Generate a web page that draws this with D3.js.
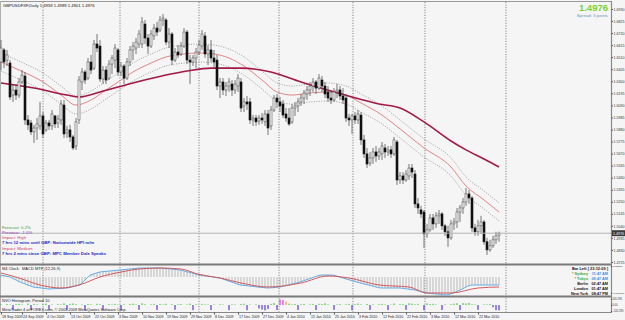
<!DOCTYPE html>
<html><head><meta charset="utf-8">
<script src="https://cdn.jsdelivr.net/npm/d3@7"></script>
<style>
body{margin:0;background:#f5f5f5;}
svg{display:block;font-family:"Liberation Sans",Arial,sans-serif;}
</style>
</head><body>
<svg id="c" width="625" height="320"></svg>
<script>
// ---------- DATA ----------
const symbolTitle = "GBPUSDFXF,Daily  1.4959 1.4989 1.4901 1.4976";
const lastPrice = 1.4976;
const open = [
1.6468,1.6573,1.6485,1.6459,1.6180,1.6224,1.6180,1.6294,1.6346,1.5963,
1.5937,1.5859,1.5893,1.5911,1.5998,1.5876,1.5937,1.5911,1.5998,1.5937,
1.5963,1.6093,1.5850,1.5876,1.5815,1.5736,1.5963,1.6294,1.6381,1.6328,
1.6468,1.6415,1.6625,1.6607,1.6320,1.6398,1.6328,1.6450,1.6485,1.6573,
1.6381,1.6433,1.6328,1.6468,1.6573,1.6590,1.6625,1.6625,1.6799,1.6677,
1.6607,1.6695,1.6764,1.6747,1.6834,1.6834,1.6642,1.6712,1.6485,1.6555,
1.6538,1.6607,1.6729,1.6485,1.6468,1.6503,1.6555,1.6607,1.6695,1.6538,
1.6573,1.6503,1.6485,1.6259,1.6294,1.6224,1.6259,1.6276,1.6224,1.6259,
1.6294,1.6085,1.6120,1.6120,1.5963,1.5980,1.5954,1.5980,1.5946,1.6015,
1.5911,1.6050,1.6154,1.6120,1.6102,1.6015,1.5980,1.5946,1.6067,1.6085,
1.6120,1.6154,1.6189,1.6224,1.6259,1.6294,1.6241,1.6311,1.6259,1.6207,
1.6154,1.6137,1.6207,1.6224,1.6172,1.6154,1.5980,1.5963,1.5998,1.5963,
1.6006,1.5789,1.5667,1.5588,1.5632,1.5684,1.5649,1.5667,1.5719,1.5684,
1.5702,1.5667,1.5771,1.5440,1.5475,1.5440,1.5475,1.5544,1.5492,1.5231,
1.5179,1.5161,1.4970,1.5005,1.5109,1.5057,1.5127,1.5144,1.5040,1.4988,
1.4935,1.5057,1.5074,1.5161,1.5196,1.5248,1.5318,1.5283,1.5022,1.4988,
1.5040,1.5074,1.4901,1.4831,1.4866,1.4918,1.4959];
const high = [
1.6660,1.6590,1.6573,1.6485,1.6267,1.6276,1.6328,1.6398,1.6381,1.6006,
1.5963,1.5920,1.5980,1.6120,1.6032,1.5963,1.5963,1.6050,1.6006,1.6006,
1.6137,1.6137,1.5911,1.5920,1.5832,1.5980,1.6346,1.6415,1.6398,1.6503,
1.6529,1.6660,1.6712,1.6660,1.6433,1.6433,1.6485,1.6529,1.6625,1.6590,
1.6468,1.6450,1.6503,1.6607,1.6642,1.6677,1.6747,1.6860,1.6834,1.6712,
1.6747,1.6799,1.6817,1.6869,1.6886,1.6851,1.6764,1.6729,1.6590,1.6616,
1.6642,1.6764,1.6747,1.6529,1.6529,1.6590,1.6660,1.6747,1.6729,1.6616,
1.6660,1.6573,1.6529,1.6328,1.6328,1.6294,1.6328,1.6311,1.6311,1.6363,
1.6328,1.6154,1.6172,1.6154,1.6006,1.6006,1.6006,1.6024,1.6050,1.6050,
1.6085,1.6180,1.6189,1.6163,1.6137,1.6067,1.6067,1.6102,1.6120,1.6154,
1.6189,1.6224,1.6259,1.6294,1.6328,1.6311,1.6363,1.6346,1.6294,1.6259,
1.6224,1.6241,1.6276,1.6259,1.6241,1.6189,1.6015,1.6015,1.6032,1.6050,
1.6032,1.5832,1.5719,1.5684,1.5719,1.5736,1.5719,1.5771,1.5754,1.5736,
1.5736,1.5815,1.5789,1.5509,1.5509,1.5527,1.5579,1.5579,1.5527,1.5283,
1.5214,1.5179,1.5057,1.5144,1.5144,1.5161,1.5179,1.5161,1.5057,1.5040,
1.5092,1.5109,1.5196,1.5222,1.5283,1.5370,1.5353,1.5300,1.5057,1.5092,
1.5127,1.5092,1.4935,1.4918,1.4953,1.4988,1.4989];
const low = [
1.6398,1.6415,1.6433,1.6137,1.6120,1.6137,1.6154,1.6276,1.5920,1.5876,
1.5832,1.5763,1.5789,1.5876,1.5806,1.5859,1.5876,1.5876,1.5893,1.5893,
1.5920,1.5806,1.5806,1.5772,1.5702,1.5702,1.5928,1.6224,1.6276,1.6311,
1.6363,1.6398,1.6555,1.6294,1.6276,1.6276,1.6311,1.6363,1.6415,1.6346,
1.6346,1.6276,1.6311,1.6433,1.6485,1.6538,1.6590,1.6590,1.6625,1.6538,
1.6590,1.6660,1.6695,1.6729,1.6782,1.6616,1.6590,1.6441,1.6468,1.6503,
1.6520,1.6590,1.6450,1.6276,1.6433,1.6415,1.6529,1.6573,1.6503,1.6441,
1.6468,1.6415,1.6224,1.6154,1.6180,1.6172,1.6207,1.6172,1.6189,1.6207,
1.6032,1.6032,1.6050,1.5928,1.5911,1.5911,1.5920,1.5928,1.5911,1.5832,
1.5876,1.6032,1.6067,1.6032,1.5980,1.5946,1.5911,1.5928,1.5998,1.6032,
1.6085,1.6102,1.6137,1.6172,1.6207,1.6189,1.6224,1.6207,1.6154,1.6120,
1.6102,1.6120,1.6154,1.6137,1.6102,1.5946,1.5911,1.5841,1.5928,1.5928,
1.5745,1.5632,1.5544,1.5562,1.5579,1.5597,1.5614,1.5614,1.5632,1.5649,
1.5632,1.5649,1.5396,1.5405,1.5405,1.5423,1.5440,1.5457,1.5196,1.5144,
1.5109,1.4848,1.4935,1.4988,1.5005,1.5022,1.5057,1.5005,1.4953,1.4857,
1.4918,1.5005,1.5022,1.5074,1.5144,1.5214,1.5231,1.4988,1.4953,1.4953,
1.4970,1.4875,1.4787,1.4814,1.4848,1.4883,1.4901];
const close = [
1.6590,1.6468,1.6529,1.6163,1.6224,1.6180,1.6294,1.6354,1.5963,1.5920,
1.5859,1.5893,1.5928,1.5998,1.5841,1.5937,1.5911,1.6015,1.5928,1.5972,
1.6102,1.5841,1.5876,1.5815,1.5719,1.5946,1.6311,1.6381,1.6311,1.6468,
1.6398,1.6625,1.6590,1.6320,1.6398,1.6311,1.6450,1.6503,1.6590,1.6381,
1.6433,1.6328,1.6468,1.6573,1.6607,1.6642,1.6712,1.6817,1.6677,1.6607,
1.6712,1.6764,1.6729,1.6834,1.6851,1.6642,1.6712,1.6485,1.6555,1.6529,
1.6607,1.6729,1.6485,1.6468,1.6503,1.6555,1.6616,1.6712,1.6538,1.6573,
1.6503,1.6468,1.6259,1.6294,1.6224,1.6259,1.6294,1.6224,1.6276,1.6328,
1.6067,1.6120,1.6102,1.5963,1.5980,1.5946,1.5980,1.5963,1.6015,1.5893,
1.6050,1.6154,1.6120,1.6085,1.6006,1.5980,1.5928,1.6067,1.6085,1.6120,
1.6154,1.6198,1.6224,1.6259,1.6294,1.6241,1.6328,1.6259,1.6189,1.6154,
1.6137,1.6207,1.6224,1.6172,1.6137,1.5980,1.5963,1.5998,1.5963,1.6015,
1.5789,1.5667,1.5579,1.5632,1.5684,1.5649,1.5684,1.5736,1.5684,1.5702,
1.5667,1.5789,1.5440,1.5475,1.5440,1.5492,1.5544,1.5509,1.5231,1.5196,
1.5144,1.4970,1.5005,1.5109,1.5057,1.5127,1.5144,1.5040,1.4988,1.4935,
1.5057,1.5074,1.5161,1.5196,1.5248,1.5318,1.5283,1.5022,1.4988,1.5040,
1.5074,1.4901,1.4831,1.4866,1.4918,1.4953,1.4976];

// moving averages read at sample bars
const slowMaIdx = [0,11,22,26,33,44,55,62,70,80,90,100,110,117,126,133,141,150,155,161,166];
const slowMa = [1.6285,1.6241,1.6180,1.6163,1.6207,1.6285,1.6354,1.6389,1.6415,1.6415,1.6381,1.6294,1.6215,1.6163,1.6102,1.6067,1.5946,1.5780,1.5702,1.5623,1.5553];
const fastMaIdx = [0,6,14,20,25,30,35,40,44,50,55,61,66,71,76,81,87,92,97,103,109,115,120,127,133,141,150,155,161,166];
const fastMa = [1.6468,1.6398,1.6294,1.6180,1.6093,1.6137,1.6224,1.6311,1.6381,1.6459,1.6512,1.6538,1.6547,1.6538,1.6503,1.6433,1.6311,1.6207,1.6180,1.6198,1.6207,1.6180,1.6111,1.6006,1.5885,1.5719,1.5553,1.5388,1.5266,1.5161];
const bandUpper = [1.6547,1.6476,1.6372,1.6259,1.6172,1.6215,1.6302,1.6389,1.6459,1.6538,1.6590,1.6616,1.6625,1.6616,1.6581,1.6512,1.6389,1.6285,1.6259,1.6276,1.6285,1.6259,1.6189,1.6085,1.5963,1.5798,1.5632,1.5466,1.5344,1.5240];
const bandLower = [1.6389,1.6320,1.6215,1.6102,1.6015,1.6058,1.6146,1.6233,1.6302,1.6381,1.6433,1.6459,1.6468,1.6459,1.6424,1.6354,1.6233,1.6128,1.6102,1.6120,1.6128,1.6102,1.6032,1.5928,1.5806,1.5640,1.5475,1.5309,1.5187,1.5083];

// MACD MTF (12,26,9): main per bar, signal at sample bars
const macdMain = [
0.0009,0.0006,0.0003,0.0000,-0.0008,-0.0015,-0.0023,-0.0029,-0.0035,-0.0041,
-0.0046,-0.0051,-0.0053,-0.0054,-0.0056,-0.0058,-0.0060,-0.0059,-0.0058,-0.0058,
-0.0057,-0.0056,-0.0055,-0.0052,-0.0048,-0.0044,-0.0041,-0.0030,-0.0015,0.0000,
0.0012,0.0016,0.0021,0.0025,0.0027,0.0028,0.0030,0.0031,0.0033,0.0034,
0.0036,0.0037,0.0039,0.0040,0.0042,0.0043,0.0045,0.0045,0.0045,0.0045,
0.0045,0.0045,0.0045,0.0045,0.0044,0.0042,0.0041,0.0039,0.0038,0.0036,
0.0034,0.0030,0.0026,0.0023,0.0019,0.0015,0.0011,0.0009,0.0006,0.0004,
0.0002,-0.0001,-0.0003,-0.0005,-0.0010,-0.0016,-0.0021,-0.0026,-0.0031,-0.0037,
-0.0041,-0.0042,-0.0044,-0.0046,-0.0047,-0.0049,-0.0051,-0.0052,-0.0054,-0.0055,
-0.0054,-0.0053,-0.0051,-0.0050,-0.0046,-0.0043,-0.0039,-0.0035,-0.0031,-0.0028,
-0.0023,-0.0018,-0.0013,-0.0008,-0.0002,0.0003,0.0008,0.0010,0.0010,0.0010,
0.0010,0.0009,0.0004,-0.0001,-0.0005,-0.0010,-0.0014,-0.0019,-0.0023,-0.0027,
-0.0031,-0.0035,-0.0038,-0.0042,-0.0046,-0.0050,-0.0054,-0.0055,-0.0055,-0.0055,
-0.0055,-0.0055,-0.0055,-0.0055,-0.0057,-0.0059,-0.0061,-0.0063,-0.0065,-0.0069,
-0.0073,-0.0076,-0.0080,-0.0082,-0.0083,-0.0085,-0.0086,-0.0088,-0.0090,-0.0089,
-0.0084,-0.0078,-0.0073,-0.0065,-0.0058,-0.0050,-0.0043,-0.0040,-0.0040,-0.0040,
-0.0040,-0.0040,-0.0040,-0.0040,-0.0040,-0.0040,-0.0040];
const signalIdx = [0,6,13,20,26,33,40,46,53,60,66,73,80,89,100,109,116,126,136,142,150,159,166];
const signalVals = [0.0020,-0.0005,-0.0040,-0.0055,-0.0040,0.0000,0.0025,0.0040,0.0045,0.0040,0.0013,-0.0005,-0.0030,-0.0050,-0.0030,0.0005,-0.0005,-0.0040,-0.0050,-0.0080,-0.0080,-0.0055,-0.0050];
const macdAxisVals = [0.0055,-0.0080];

// NVO Histogram, Period 10 (per bar)
const nvo = [
12,0,18,8,-85,15,22,10,0,26,
-90,20,14,0,18,25,-80,10,0,16,
12,30,-88,20,28,15,0,10,-92,18,
12,0,22,14,-85,0,16,10,20,8,
-90,12,0,18,24,10,-86,30,14,0,
12,20,-90,16,10,22,0,14,-84,12,
18,0,10,24,-90,14,0,20,12,8,
-88,10,0,14,8,0,-90,12,10,0,
18,22,-92,10,0,12,-60,-80,-95,-70,
20,34,-90,98,90,60,24,12,18,-88,
14,20,0,10,16,-90,22,18,30,12,
0,-86,10,16,0,12,20,-92,14,26,
10,0,18,-88,12,0,16,20,10,-90,
8,26,0,14,18,-85,30,24,12,20,
0,-92,28,18,22,10,0,-88,12,0,
16,24,30,-90,34,28,36,14,10,-86,
0,12,10,16,-40,-92,-95];
const nvoAxisVals = [105.29, 0, -105.29];

// axes
const priceTicks = [1.6930,1.6825,1.6720,1.6615,1.6510,1.6405,1.6300,1.6195,1.6090,1.5985,1.5880,
  1.5775,1.5670,1.5565,1.5460,1.5355,1.5250,1.5145,1.5040,1.4935,1.4830,1.4725];
const dateIdx = [0,7,15,23,31,39,47,55,63,71,79,87,95,103,111,119,127,135,143,151,159];
const dateText = ["18 Sep 2009","24 Sep 2009","4 Oct 2009","13 Oct 2009","22 Oct 2009","3 Nov 2009",
  "10 Nov 2009","19 Nov 2009","29 Nov 2009","8 Dec 2009","17 Dec 2009","27 Dec 2009","4 Jan 2010",
  "15 Jan 2010","25 Jan 2010","3 Feb 2010","12 Feb 2010","22 Feb 2010","3 Mar 2010","12 Mar 2010","22 Mar 2010"];
const monthStartIdx = [14, 39.67, 66, 92.67, 117.33, 141.33, 168.33];

// news / clock texts
const newsLines = [
  {t:"Forecast: 0.2%", c:"#3a9a3a", b:false},
  {t:"Previous: -1.0%", c:"#8a3cb0", b:false},
  {t:"Impact: High", c:"#d0406a", b:false},
  {t:"7 hrs 12 mins until GBP: Nationwide HPI m/m", c:"#1c2cc8", b:true},
  {t:"Impact: Medium", c:"#d0406a", b:false},
  {t:"7 hrs 2 mins since GBP: MPC Member Dale Speaks", c:"#1c2cc8", b:true}
];
const clockCities = ["* Sydney","* Tokyo","Berlin","London","New York"];
const clockTimes = ["11:47 AM","09:47 AM","02:47 AM","01:47 AM","08:47 PM"];

// ---------- DRAW ----------
const svg = d3.select("#c");
const W = 625, H = 320, axisX = 611;
svg.append("rect").attr("width",W).attr("height",H).attr("fill","#f5f5f5");

const x = d3.scaleLinear().domain([0,166]).range([1,499]);
const y = d3.scaleLinear().domain([1.4725,1.6930]).range([262,9]);
const yM = d3.scaleLinear().domain([-0.0090,0.0050]).range([295,267]);
const yN = d3.scaleLinear().domain([-105.29,105.29]).range([311,299]);

// frames
svg.append("line").attr("x1",0).attr("x2",axisX).attr("y1",1.5).attr("y2",1.5).attr("stroke","#9a9a9a");
svg.append("line").attr("x1",0.5).attr("x2",0.5).attr("y1",1).attr("y2",312).attr("stroke","#b0b0b0");

// month separators
svg.append("g").selectAll("line").data(monthStartIdx).join("line")
  .attr("x1",d=>x(d)).attr("x2",d=>x(d)).attr("y1",2).attr("y2",312)
  .attr("stroke","#555").attr("stroke-width",0.8).attr("stroke-dasharray","1,1.6");

// bands and MAs
const lineIdx = (idx) => d3.line().x((d,i)=>x(idx[i])).y(d=>y(d)).curve(d3.curveMonotoneX);
svg.append("path").attr("d",lineIdx(fastMaIdx)(bandUpper)).attr("fill","none")
  .attr("stroke","#777").attr("stroke-width",0.7).attr("stroke-dasharray","1,1.5");
svg.append("path").attr("d",lineIdx(fastMaIdx)(bandLower)).attr("fill","none")
  .attr("stroke","#777").attr("stroke-width",0.7).attr("stroke-dasharray","1,1.5");
svg.append("path").attr("d",lineIdx(fastMaIdx)(fastMa)).attr("fill","none")
  .attr("stroke","#e07878").attr("stroke-width",0.9);
svg.append("path").attr("d",lineIdx(slowMaIdx)(slowMa)).attr("fill","none")
  .attr("stroke","#a3174a").attr("stroke-width",1.6);

// candles
const idx = d3.range(close.length);
const cg = svg.append("g");
cg.selectAll("line").data(idx).join("line")
  .attr("x1",i=>x(i)).attr("x2",i=>x(i))
  .attr("y1",i=>y(high[i])).attr("y2",i=>y(low[i]))
  .attr("stroke","#555").attr("stroke-width",0.8);
cg.selectAll("rect").data(idx).join("rect")
  .attr("x",i=>x(i)-1).attr("width",2)
  .attr("y",i=>y(Math.max(open[i],close[i])))
  .attr("height",i=>Math.max(0.8,Math.abs(y(open[i])-y(close[i]))))
  .attr("fill",i=>close[i]>=open[i]?"#ffffff":"#111")
  .attr("stroke",i=>close[i]>=open[i]?"#555":"#111").attr("stroke-width",0.6);

// bid line
svg.append("line").attr("x1",0).attr("x2",axisX).attr("y1",y(lastPrice)).attr("y2",y(lastPrice))
  .attr("stroke","#b4b4b4").attr("stroke-width",1);

// title
svg.append("text").attr("x",3).attr("y",7).attr("font-size",4.2).attr("fill","#111").text(symbolTitle);
// big price
svg.append("text").attr("x",608).attr("y",11).attr("text-anchor","end").attr("font-size",9.5)
  .attr("font-weight","bold").attr("fill","#7ed321").text(d3.format(".4f")(lastPrice));
svg.append("text").attr("x",608).attr("y",16.5).attr("text-anchor","end").attr("font-size",4.3)
  .attr("fill","#6f93b8").text("Spread: 3 points");

// news texts
const newsY = [229, 233.6, 238.6, 243.6, 250.3, 255.3];
svg.append("g").selectAll("text").data(newsLines).join("text")
  .attr("x",2).attr("y",(d,i)=>newsY[i]).attr("font-size",4.3)
  .attr("font-weight",d=>d.b?"bold":"normal").attr("fill",d=>d.c).text(d=>d.t);

// window separators
[264.5, 296.5].forEach(v=>svg.append("line").attr("x1",0).attr("x2",axisX).attr("y1",v).attr("y2",v)
  .attr("stroke","#7a7a7a").attr("stroke-width",1.8));
svg.append("line").attr("x1",0).attr("x2",axisX).attr("y1",312.5).attr("y2",312.5).attr("stroke","#888").attr("stroke-width",1);

// MACD window
svg.append("text").attr("x",2).attr("y",269.8).attr("font-size",4.0).attr("fill","#222").text("M4 Clock");
svg.append("text").attr("x",22).attr("y",269.8).attr("font-size",4.0).attr("fill","#222").text("MACD MTF (12,26,9)");
svg.append("g").selectAll("line").data(idx).join("line")
  .attr("x1",i=>x(i)).attr("x2",i=>x(i)).attr("y1",yM(0)).attr("y2",i=>yM(macdMain[i]))
  .attr("stroke","#a8a8a8").attr("stroke-width",0.8);
svg.append("path").attr("d",d3.line().x((d,i)=>x(i)).y(d=>yM(d))(macdMain))
  .attr("fill","none").attr("stroke","#5aa6e6").attr("stroke-width",0.9);
svg.append("path").attr("d",d3.line().x((d,i)=>x(signalIdx[i])).y(d=>yM(d)).curve(d3.curveMonotoneX)(signalVals))
  .attr("fill","none").attr("stroke","#d24a4a").attr("stroke-width",0.9);

// clock block
svg.append("text").attr("x",608).attr("y",270.3).attr("text-anchor","end").attr("font-size",3.9)
  .attr("font-weight","bold").attr("fill","#111").text("Bar Left [ 23:12:09 ]");
const cityCol = ["#3aa63a","#3aa63a","#111","#111","#111"];
const timeCol = ["#3d8de0","#3d8de0","#111","#111","#111"];
clockCities.forEach((c,i)=>{
  svg.append("text").attr("x",588).attr("y",275.3+i*4.9).attr("text-anchor","end").attr("font-size",3.8)
    .attr("font-weight","bold").attr("fill",cityCol[i]).text(c);
  svg.append("text").attr("x",608).attr("y",275.3+i*4.9).attr("text-anchor","end").attr("font-size",3.8)
    .attr("font-weight","bold").attr("fill",timeCol[i]).text(clockTimes[i]);
});

// NVO window
svg.append("text").attr("x",2).attr("y",302).attr("font-size",4.0).attr("fill","#222").text("NVO Histogram, Period 10");
const nvoColor = v => v<0 ? "#5b3fc4" : v>70 ? "#e040d8" : v>40 ? "#f0a020" : "#3cc83c";
svg.append("g").selectAll("rect").data(idx).join("rect")
  .attr("x",i=>x(i)-0.6).attr("width",1.2)
  .attr("y",i=>Math.min(yN(0),yN(nvo[i]))).attr("height",i=>Math.abs(yN(nvo[i])-yN(0)))
  .attr("fill",i=>nvoColor(nvo[i]));
svg.append("text").attr("x",2).attr("y",310.5).attr("font-size",3.9).attr("fill","#222")
  .text("MetaTrader 4 at FOREX.com, © 2001-2009 MetaQuotes Software Corp.");

// right axis
svg.append("line").attr("x1",axisX+0.5).attr("x2",axisX+0.5).attr("y1",1).attr("y2",313).attr("stroke","#8a8a8a").attr("stroke-width",1.2);
const ay = svg.append("g").attr("transform",`translate(${axisX+0.5},0)`)
  .call(d3.axisRight(y).tickValues(priceTicks).tickFormat(d3.format(".4f")).tickSize(1.5).tickPadding(0.5));
ay.select(".domain").remove();
ay.selectAll("text").attr("font-size",3.6).attr("fill","#333");
ay.selectAll("line").attr("stroke","#555");
// last price tag
svg.append("rect").attr("x",axisX+1).attr("y",y(lastPrice)-3).attr("width",13).attr("height",6).attr("fill","#3c3c3c");
svg.append("text").attr("x",axisX+2).attr("y",y(lastPrice)+1.3).attr("font-size",3.6).attr("fill","#fff").text(d3.format(".4f")(lastPrice));
// MACD axis labels
const am = svg.append("g").attr("transform",`translate(${axisX+0.5},0)`)
  .call(d3.axisRight(yM).tickValues(macdAxisVals).tickFormat(d3.format(".6f")).tickSize(0.5).tickPadding(0.2));
am.select(".domain").remove();
am.selectAll("text").attr("font-size",2.5).attr("fill","#333");
// NVO axis labels
const an = svg.append("g").attr("transform",`translate(${axisX+0.5},0)`)
  .call(d3.axisRight(yN).tickValues(nvoAxisVals).tickFormat(d=>d===0?"0.00":d3.format(".3f")(d)).tickSize(0.5).tickPadding(0.2));
an.select(".domain").remove();
an.selectAll("text").attr("font-size",2.7).attr("fill","#333");

// date axis
const ax = svg.append("g").attr("transform","translate(0,312.5)")
  .call(d3.axisBottom(x).tickValues(dateIdx).tickFormat((d,i)=>dateText[i]).tickSize(2).tickPadding(1));
ax.select(".domain").remove();
ax.selectAll("text").attr("text-anchor","start").attr("dx","0.5").attr("font-size",3.6).attr("fill","#222");
ax.selectAll("line").attr("stroke","#555");
</script>
</body></html>
